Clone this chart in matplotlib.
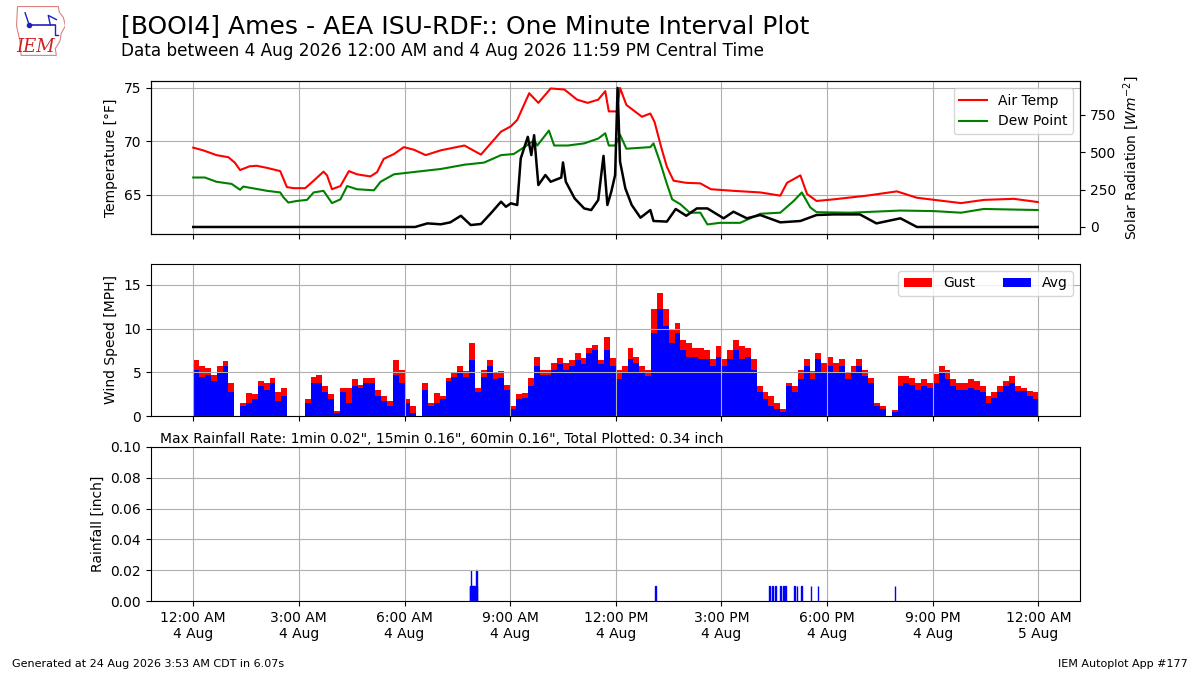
import matplotlib
matplotlib.use('Agg')
import matplotlib.pyplot as plt
from matplotlib.patches import Polygon

# hours since midnight 4 Aug 2026 (Central Time)
temp_hours = [0.0, 0.28, 0.66, 1.0, 1.18, 1.33, 1.6, 1.8, 2.1, 2.47,
              2.66, 2.85, 3.18, 3.42, 3.7, 3.8, 3.94, 4.18, 4.42, 4.65,
              5.03, 5.22, 5.41, 5.7, 5.98, 6.27, 6.6, 7.03, 7.7, 8.17,
              8.74, 9.02, 9.2, 9.54, 9.8, 10.15, 10.54, 10.9, 11.2, 11.5,
              11.7, 11.8, 12.03, 12.12, 12.3, 12.74, 12.98, 13.1, 13.3, 13.45,
              13.64, 14.0, 14.4, 14.7, 15.34, 16.1, 16.67, 16.86, 17.24, 17.43,
              17.7, 18.18, 19.13, 19.98, 20.55, 21.8, 22.45, 23.3, 23.98]
air_temp = [69.4, 69.15, 68.7, 68.5, 68.0, 67.3, 67.65, 67.7, 67.5, 67.2,
            65.7, 65.6, 65.6, 66.3, 67.15, 66.8, 65.5, 65.8, 67.2, 66.9,
            66.7, 67.1, 68.35, 68.8, 69.45, 69.2, 68.7, 69.15, 69.6, 68.75,
            70.9, 71.4, 72.0, 74.5, 73.6, 74.95, 74.85, 73.9, 73.6, 73.9,
            74.7, 72.8, 72.8, 75.0, 73.4, 72.3, 72.6, 71.8, 69.3, 67.6,
            66.3, 66.1, 66.05, 65.5, 65.35, 65.2, 64.9, 66.1, 66.8, 65.05,
            64.4, 64.55, 64.9, 65.3, 64.7, 64.2, 64.5, 64.6, 64.3]

dew_hours = [0.0, 0.33, 0.66, 1.09, 1.33, 1.42, 2.1, 2.47, 2.56, 2.7,
             2.94, 3.23, 3.42, 3.7, 3.94, 4.18, 4.37, 4.65, 5.13, 5.32,
             5.7, 6.36, 7.03, 7.7, 8.26, 8.74, 9.1, 9.4, 9.68, 9.77,
             10.1, 10.25, 10.64, 11.1, 11.5, 11.7, 11.8, 11.98, 12.12, 12.3,
             12.98, 13.07, 13.26, 13.45, 13.6, 13.83, 14.1, 14.4, 14.6, 14.96,
             15.53, 16.1, 16.67, 17.05, 17.28, 17.52, 17.7, 18.66, 20.08, 21.03,
             21.8, 22.45, 23.98]
dew_point = [66.6, 66.6, 66.2, 66.0, 65.45, 65.75, 65.35, 65.2, 64.75, 64.25,
             64.4, 64.5, 65.2, 65.35, 64.2, 64.55, 65.8, 65.5, 65.4, 66.2,
             66.9, 67.15, 67.4, 67.8, 68.0, 68.7, 68.8, 69.45, 70.1, 69.6,
             71.0, 69.6, 69.6, 69.8, 70.25, 70.75, 69.6, 69.6, 70.6, 69.3,
             69.45, 69.8, 68.0, 66.0, 64.55, 64.1, 63.3, 63.3, 62.2, 62.35,
             62.35, 63.2, 63.3, 64.4, 65.2, 63.8, 63.35, 63.3, 63.5, 63.45,
             63.3, 63.65, 63.55]

solar_hours = [0.0, 6.3, 6.65, 7.03, 7.3, 7.6, 7.88, 8.17, 8.45, 8.74,
               8.88, 9.02, 9.2, 9.3, 9.5, 9.6, 9.68, 9.8, 10.0, 10.15,
               10.45, 10.5, 10.58, 10.83, 11.1, 11.3, 11.5, 11.65, 11.76, 11.87,
               11.98, 12.05, 12.12, 12.27, 12.45, 12.7, 12.98, 13.07, 13.45, 13.7,
               14.0, 14.3, 14.6, 15.06, 15.34, 15.72, 16.1, 16.67, 17.24, 17.7,
               18.18, 18.93, 19.4, 20.08, 20.55, 23.98]
solar_rad = [0, 0, 24, 18, 31, 75, 13, 20, 91, 169,
             135, 158, 147, 458, 602, 480, 613, 280, 347, 302,
             330, 431, 302, 191, 124, 113, 180, 475, 147, 235,
             347, 929, 436, 258, 147, 62, 113, 40, 36, 120,
             75, 124, 124, 58, 102, 58, 80, 31, 40, 80,
             84, 84, 24, 58, 0, 0]

# wind, 10 minute bins starting at midnight
wind_avg = [5.3, 4.5, 4.7, 4.0, 4.9, 5.7, 2.8, 0, 1.1, 1.5,
            1.9, 3.4, 3.0, 3.8, 1.7, 2.3, 0, 0, 0, 1.5,
            3.8, 3.8, 2.8, 1.9, 0.4, 2.7, 1.5, 3.4, 3.2, 3.8,
            3.8, 2.3, 1.7, 1.1, 4.7, 3.8, 1.5, 0.4, 0, 3.0,
            1.1, 1.5, 1.9, 4.0, 4.5, 5.1, 4.5, 6.4, 2.7, 4.5,
            5.7, 4.2, 4.4, 3.0, 0.8, 1.9, 2.1, 3.4, 5.7, 4.7,
            4.7, 5.3, 5.9, 5.3, 5.7, 6.4, 5.9, 7.2, 7.6, 5.9,
            7.6, 5.7, 4.2, 4.9, 6.5, 6.1, 4.9, 4.6, 9.5, 12.2,
            10.3, 8.4, 9.5, 7.6, 6.8, 6.8, 6.5, 6.5, 5.7, 6.8,
            5.7, 6.5, 7.6, 6.5, 6.8, 5.3, 2.7, 1.9, 1.1, 0.8,
            0.5, 3.4, 2.7, 4.2, 5.7, 4.2, 6.5, 4.9, 5.7, 4.9,
            5.7, 4.2, 4.9, 5.7, 4.6, 3.8, 1.1, 0.8, 0, 0.5,
            3.4, 3.8, 3.6, 3.0, 3.4, 3.2, 3.8, 4.9, 4.2, 3.4,
            3.0, 3.0, 3.2, 3.0, 2.7, 1.5, 2.1, 2.7, 3.4, 3.8,
            2.9, 2.9, 2.3, 1.9]
wind_gust = [6.4, 5.7, 5.5, 4.7, 5.7, 6.25, 3.8, 0, 1.5, 2.65,
             2.5, 4.0, 3.8, 4.4, 2.8, 3.2, 0, 0, 0, 1.9,
             4.5, 4.7, 3.4, 2.5, 0.6, 3.2, 3.2, 4.2, 3.6, 4.4,
             4.4, 3.0, 2.3, 1.7, 6.4, 5.3, 1.9, 1.1, 0, 3.8,
             1.5, 2.65, 2.3, 4.4, 4.9, 5.7, 5.1, 8.3, 3.2, 5.3,
             6.4, 4.9, 5.1, 3.6, 1.1, 2.5, 2.65, 4.4, 6.8, 5.3,
             5.3, 6.1, 6.6, 6.1, 6.4, 7.2, 6.6, 7.8, 8.1, 6.4,
             9.1, 6.6, 5.3, 5.7, 7.8, 6.8, 5.7, 5.3, 12.2, 14.1,
             12.2, 9.9, 10.6, 8.7, 8.4, 7.8, 7.8, 7.6, 6.5, 8.0,
             6.5, 7.6, 8.7, 8.0, 7.8, 6.5, 3.4, 2.7, 2.3, 1.5,
             0.8, 3.8, 3.4, 5.3, 6.5, 5.1, 7.2, 6.1, 6.8, 6.1,
             6.5, 4.9, 5.7, 6.5, 5.3, 4.4, 1.5, 1.1, 0, 0.7,
             4.6, 4.6, 4.4, 3.8, 4.2, 3.8, 4.8, 5.7, 5.3, 4.2,
             3.8, 3.8, 4.2, 4.0, 3.4, 2.3, 2.7, 3.4, 4.0, 4.6,
             3.4, 3.2, 2.9, 2.7]
wind_hours = [i / 6.0 for i in range(len(wind_avg))]

# one minute rainfall, minute of the day and inches
rain_minutes = [471, 472, 473, 474, 475, 476, 477, 478, 479, 482, 483,
                787, 981, 986, 992, 1000, 1005, 1009, 1024, 1028, 1036,
                1052, 1064, 1195]
rain_inch = [0.01, 0.01, 0.02, 0.01, 0.01, 0.01, 0.01, 0.01, 0.01, 0.02, 0.01,
             0.01, 0.01, 0.01, 0.01, 0.01, 0.01, 0.01, 0.01, 0.01, 0.01,
             0.01, 0.01, 0.01]
rain_hours = [m / 60.0 for m in rain_minutes]

tick_hours = [0, 3, 6, 9, 12, 15, 18, 21, 24]
tick_labels = ['12:00 AM\n4 Aug', '3:00 AM\n4 Aug', '6:00 AM\n4 Aug',
               '9:00 AM\n4 Aug', '12:00 PM\n4 Aug', '3:00 PM\n4 Aug',
               '6:00 PM\n4 Aug', '9:00 PM\n4 Aug', '12:00 AM\n5 Aug']


def main():
    fig = plt.figure(figsize=(12, 6.75), dpi=100)

    ax1 = fig.add_axes([0.1258, 0.6533, 0.7742, 0.2267])
    ax2 = fig.add_axes([0.1258, 0.3837, 0.7742, 0.2252])
    ax3 = fig.add_axes([0.1258, 0.1096, 0.7742, 0.2282])

    # temperature + solar
    ax1.plot(temp_hours, air_temp, color='r', lw=1.5, label='Air Temp')
    ax1.plot(dew_hours, dew_point, color='g', lw=1.5, label='Dew Point')
    ax1.set_ylabel('Temperature [°F]')
    ax1.set_ylim(61.3, 75.65)
    ax1.grid(True)
    ax1.legend(loc='upper right')
    ax1b = ax1.twinx()
    ax1b.plot(solar_hours, solar_rad, color='k', lw=1.8)
    ax1b.set_ylim(-47, 975)
    ax1b.set_yticks([0, 250, 500, 750])
    ax1b.set_ylabel('Solar Radiation [$Wm^{-2}$]')

    # wind
    ax2.bar(wind_hours, wind_gust, width=1 / 6.0, align='edge', color='r',
            linewidth=0, label='Gust')
    ax2.bar(wind_hours, wind_avg, width=1 / 6.0, align='edge', color='b',
            linewidth=0, label='Avg')
    ax2.set_ylabel('Wind Speed [MPH]')
    ax2.set_ylim(0, 17.4)
    ax2.set_yticks([0, 5, 10, 15])
    ax2.grid(True)
    ax2.legend(loc='upper right', ncol=2)

    # rainfall
    ax3.bar(rain_hours, rain_inch, width=1 / 60.0, align='edge', color='b',
            edgecolor='b', linewidth=1.0)
    ax3.set_ylim(0, 0.1)
    ax3.set_yticks([0, 0.02, 0.04, 0.06, 0.08, 0.10])
    ax3.set_yticklabels(['%.2f' % v for v in [0, 0.02, 0.04, 0.06, 0.08, 0.10]])
    ax3.set_ylabel('Rainfall [inch]')
    ax3.grid(True)
    ax3.text(0.01, 1.005, 'Max Rainfall Rate: 1min 0.02", 15min 0.16", '
             '60min 0.16", Total Plotted: 0.34 inch',
             transform=ax3.transAxes, va='bottom', ha='left', fontsize=10)

    for ax in (ax1, ax2, ax3):
        ax.set_xlim(-1.2, 25.18)
        ax.set_xticks(tick_hours)
    ax1.set_xticklabels([])
    ax2.set_xticklabels([])
    ax3.set_xticklabels(tick_labels)

    # titles
    fig.text(0.1008, 0.962, '[BOOI4] Ames - AEA ISU-RDF:: One Minute Interval Plot',
             fontsize=18, va='center')
    fig.text(0.1008, 0.924, 'Data between 4 Aug 2026 12:00 AM and 4 Aug 2026 '
             '11:59 PM Central Time', fontsize=12.2, va='center')
    fig.text(0.01, 0.016, 'Generated at 24 Aug 2026 3:53 AM CDT in 6.07s',
             fontsize=8, va='center')
    fig.text(0.99, 0.016, 'IEM Autoplot App #177', fontsize=8, va='center',
             ha='right')

    # small IEM logo
    logo = fig.add_axes([0.0125, 0.9156, 0.042, 0.077])
    logo.set_xlim(0, 1)
    logo.set_ylim(0, 1)
    logo.axis('off')
    iowa = [(0.05, 0.97), (0.86, 0.97), (0.88, 0.86), (0.96, 0.76),
            (1.0, 0.6), (0.92, 0.46), (0.89, 0.3), (0.8, 0.16), (0.82, 0.03),
            (0.12, 0.03), (0.1, 0.3), (0.03, 0.6), (0.05, 0.97)]
    logo.add_patch(Polygon(iowa, closed=True, fill=False, ec='#e08080', lw=0.8))
    logo.plot([0.28, 0.8], [0.62, 0.62], color='#2020c0', lw=1.2)
    logo.plot([0.28], [0.62], 'o', color='#2020c0', ms=3)
    logo.plot([0.28, 0.2], [0.62, 0.85], color='#2020c0', lw=1)
    logo.plot([0.7, 0.66, 0.82], [0.62, 0.8, 0.72], color='#2020c0', lw=1)
    logo.plot([0.8, 0.8, 0.86], [0.62, 0.42, 0.42], color='#2020c0', lw=1)
    logo.text(0.4, 0.2, 'IEM', color='#d02020', fontsize=13, style='italic',
              family='serif', ha='center', va='center')

    fig.savefig('out.png', dpi=100)


if __name__ == '__main__':
    main()
